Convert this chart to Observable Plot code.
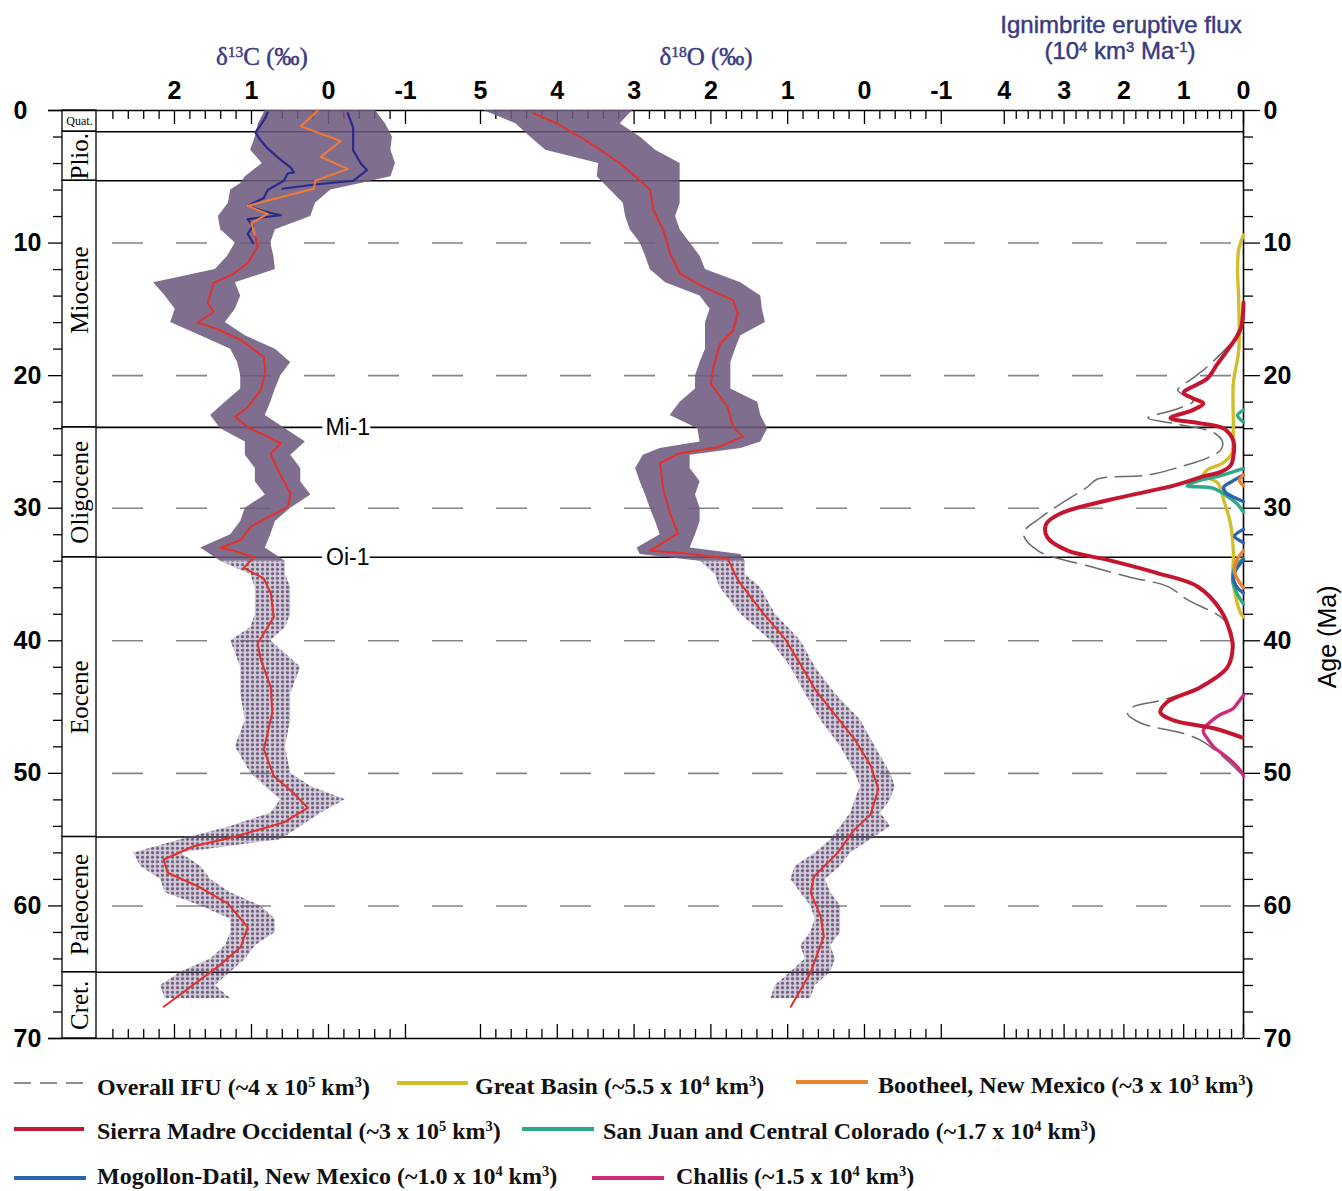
<!DOCTYPE html>
<html>
<head>
<meta charset="utf-8">
<script src="https://cdn.jsdelivr.net/npm/d3@7"></script>
<script src="https://cdn.jsdelivr.net/npm/@observablehq/plot@0.6"></script>
<style>
html,body{margin:0;padding:0;background:#fff;}
#wrap{position:relative;width:1342px;height:1191px;overflow:hidden;background:#fff;}
.ttl{position:absolute;color:#3b3a80;white-space:nowrap;transform:translateX(-50%);line-height:1;-webkit-text-stroke:0.45px #3b3a80;}
.serif{font-family:"Liberation Serif","Times New Roman",serif;}
.sans{font-family:"Liberation Sans",Arial,sans-serif;}
.ttl sup{font-size:0.62em;vertical-align:0.5em;line-height:0;}
.leg{position:absolute;font-family:"Liberation Serif","Times New Roman",serif;font-weight:bold;font-size:24px;white-space:nowrap;color:#111;line-height:1;}
.leg sup{font-size:0.6em;vertical-align:0.55em;line-height:0;}
.sw{position:absolute;overflow:visible;}
</style>
</head>
<body>
<div id="wrap"></div>
<script>
// ---------------- DATA ----------------
const epochs = [
  {name: "Quat.", start: 0, end: 1.6},
  {name: "Plio.", start: 1.6, end: 5.3},
  {name: "Miocene", start: 5.3, end: 23.9},
  {name: "Oligocene", start: 23.9, end: 33.7},
  {name: "Eocene", start: 33.7, end: 54.8},
  {name: "Paleocene", start: 54.8, end: 65},
  {name: "Cret.", start: 65, end: 70}
];
const boundaries = [1.6, 5.3, 23.9, 33.7, 54.8, 65];
const dashedAges = [10, 20, 30, 40, 50, 60];
const events = [{label: "Mi-1", age: 23.9}, {label: "Oi-1", age: 33.7}];
const ageMajor = [0, 10, 20, 30, 40, 50, 60, 70];
const ageMinor = [2, 4, 6, 8, 12, 14, 16, 18, 22, 24, 26, 28, 32, 34, 36, 38, 42, 44, 46, 48, 52, 54, 56, 58, 62, 64, 66, 68];

const c13TickLabels = [2, 1, 0, -1];
const o18TickLabels = [5, 4, 3, 2, 1, 0, -1];
const fluxTickLabels = [4, 3, 2, 1, 0];

// δ13C data cloud envelope [age, left value, right value] (‰)
const c13CloudDense = [
  [0,0.82,-0.61],[1,0.91,-0.74],[2,0.95,-0.83],[3,1.01,-0.81],[4,0.86,-0.87],[5,1.08,-0.81],[5.5,1.14,-0.42],
  [6,1.27,-0.03],[7,1.30,0.17],[8,1.43,0.23],[9,1.40,0.69],[10,1.21,0.75],[11,1.31,0.71],[12,1.47,0.69],
  [13,2.27,1.21],[14,2.12,1.14],[15,1.99,1.21],[16,2.05,1.34],[17,1.66,1.08],[18,1.27,0.69],[19,1.18,0.49],
  [20,1.14,0.62],[21,1.14,0.69],[22,1.34,0.75],[23,1.53,0.82],[24,1.40,0.56],[25,1.08,0.30],[26,1.08,0.49],
  [27,0.95,0.36],[28,0.95,0.36],[29,0.82,0.23],[30,1.08,0.49],[31,1.14,0.69],[32,1.27,0.75],[33,1.66,0.82],
  [34,1.40,0.56]
];
const c13CloudSparse = [
  [34,1.40,0.56],[35,1.01,0.56],[36,0.95,0.49],[38,0.95,0.49],[39,1.01,0.56],[40,1.27,0.75],[42,1.14,0.36],
  [44,1.14,0.49],[46,1.08,0.49],[48,1.21,0.56],[50,1.01,0.49],[51,0.82,0.23],[52,0.62,-0.22],[53,0.75,0.10],
  [54,1.27,0.36],[55,1.92,0.62],[56,2.53,1.92],[57,2.44,1.66],[58,2.18,1.53],[59,2.12,1.27],[60,1.66,0.88],
  [61,1.27,0.69],[62,1.27,0.69],[63,1.34,0.95],[64,1.53,1.08],[65,1.92,1.27],[66,2.18,1.47],[67,2.12,1.27]
];
// δ13C smoothed curves [age, value]
const c13Red = [
  [9.5,0.95],[10.3,0.92],[11.5,1.05],[12.3,1.23],[13.0,1.49],[14.5,1.57],[15.2,1.49],[16.0,1.70],[16.5,1.44],
  [17.3,1.14],[18.6,0.84],[19.8,0.82],[21.1,0.88],[22.4,1.05],[23.1,1.21],[23.9,1.05],[24.6,0.79],[25.1,0.62],
  [25.9,0.75],[27.1,0.66],[28.9,0.49],[29.9,0.53],[30.7,0.79],[31.4,1.01],[32.4,1.14],[33.0,1.40],[33.2,1.23],
  [33.7,0.97],[34.5,1.10],[35.3,0.84],[36.4,0.75],[38.2,0.71],[40.2,0.92],[41.4,0.88],[43.5,0.75],[45.4,0.73],
  [48.2,0.84],[50.2,0.71],[51.5,0.45],[52.6,0.27],[53.7,0.58],[54.8,1.23],[55.5,1.75],[56.5,2.14],[57.5,2.09],
  [58.5,1.70],[59.8,1.31],[61.6,1.05],[63.1,1.14],[64.6,1.44],[66.1,1.79],[67.6,2.14]
];
const c13Orange = [
  [0,0.14],[1.2,0.36],[2.3,-0.16],[3.5,0.1],[4.4,-0.25],[5.3,0.17],[5.9,0.19],[6.5,0.6],[7.2,1.05],
  [7.8,0.79],[8.5,1.0],[9.5,0.95]
];
const c13NavyLeft = [
  [0.15,0.79],[0.75,0.84],[1.66,0.95],[2.26,0.88],[2.86,0.79],[3.54,0.66],[4.3,0.49],[4.67,0.45],[4.75,0.53],
  [5.3,0.58],[6.0,0.79],[6.6,0.84],[7.2,1.05],[7.6,0.84],[7.9,0.62],[8.2,1.05],[8.7,0.98],[9.3,1.05],[10,0.98]
];
const c13NavyRight = [
  [0.2,-0.25],[1.3,-0.32],[3.0,-0.32],[4.0,-0.42],[4.5,-0.5],[5.3,-0.32],[5.6,0.2],[5.9,0.6]
];

// δ18O data cloud envelope and smoothed curve
const o18CloudDense = [
  [0,4.96,3.02],[1,4.54,3.18],[2,4.35,2.92],[3,4.15,2.72],[4,3.46,2.40],[5,3.48,2.40],[6,3.31,2.40],[7,3.14,2.40],
  [8,3.11,2.46],[9,3.05,2.40],[10,2.92,2.27],[11,2.85,2.14],[12,2.79,2.07],[13,2.59,1.61],[14,2.14,1.35],
  [15,2.01,1.33],[16,2.07,1.29],[17,2.07,1.61],[18,2.07,1.68],[19,2.14,1.74],[20,2.20,1.74],[21,2.20,1.74],
  [22,2.40,1.39],[23,2.53,1.35],[24,2.17,1.26],[25,2.14,1.35],[25.5,2.66,1.61],[26,2.88,2.27],[27,2.98,2.27],
  [28,2.92,2.14],[29,2.85,2.20],[30,2.79,2.14],[31,2.72,2.14],[32,2.66,2.20],[33,2.96,2.27],[33.5,2.92,1.61],
  [34,2.14,1.55]
];
const o18CloudSparse = [
  [34,2.14,1.55],[35,1.94,1.55],[36,1.88,1.35],[38,1.61,1.16],[40,1.22,0.83],[42,0.96,0.64],[44,0.77,0.38],
  [46,0.57,0.05],[48,0.31,-0.14],[50,0.12,-0.34],[51,0.05,-0.40],[52,0.12,-0.34],[53,0.18,-0.21],[54,0.31,-0.34],
  [55,0.44,-0.08],[56,0.64,0.18],[57,0.90,0.31],[58,0.96,0.51],[59,0.83,0.44],[60,0.70,0.31],[61,0.64,0.31],
  [62,0.70,0.31],[63,0.83,0.44],[64,0.77,0.38],[65,0.96,0.44],[66,1.16,0.64],[67,1.22,0.70]
];
const o18Red = [
  [0.2,4.31],[1.0,4.0],[2.0,3.70],[2.8,3.48],[4.0,3.18],[5.3,2.92],[6.0,2.79],[7.5,2.75],[9.0,2.62],[10.8,2.53],
  [12.3,2.40],[13.3,2.10],[14.3,1.71],[15.3,1.65],[16.6,1.71],[17.6,1.88],[19.4,1.97],[20.6,2.0],[22.4,1.78],
  [23.9,1.71],[24.6,1.58],[25.4,1.91],[25.9,2.43],[26.6,2.66],[28.6,2.62],[30.4,2.53],[31.9,2.43],[32.6,2.62],
  [33.2,2.79],[33.4,2.35],[33.8,1.78],[35.4,1.65],[37.7,1.35],[39.9,1.03],[41.8,0.83],[43.7,0.64],[45.6,0.38],
  [47.5,0.12],[49.4,-0.08],[51.2,-0.18],[53.1,-0.08],[54.3,0.14],[56.0,0.35],[57.8,0.66],[59.0,0.70],[60.8,0.57],
  [62.3,0.53],[65.0,0.70],[67.6,0.96]
];

// Ignimbrite eruptive flux (10^4 km^3/Ma) [age, flux]; separate pulses per region
const fluxOverall = [
  [15,0.02],[17,0.12],[18,0.3],[19.5,0.65],[20.2,0.85],[21.1,1.1],[21.9,0.84],[22.5,1.1],[23.2,1.6],[23.6,1.17],
  [24.3,0.5],[25.0,0.35],[25.6,0.38],[26.2,0.6],[26.8,1.0],[27.5,1.6],[27.8,2.44],[28.4,2.61],[29.5,3.0],
  [30.7,3.39],[31.9,3.68],[33.2,3.44],[34.4,2.56],[35.2,1.9],[35.9,1.27],[36.9,0.94],[38.4,0.33],[39.9,0.17],
  [42,0.27],[43.5,0.72],[44.5,1.39],[45.0,1.85],[45.5,1.94],[46.2,1.72],[47.0,1.0],[47.5,0.72],[48.8,0.33],[50,0.05]
];
const fluxSMO = [
  [14.5,0],[16.5,0.05],[18.1,0.27],[19.2,0.45],[20.2,0.6],[21.3,1.0],[21.7,0.85],[22.1,0.67],[22.6,0.85],[23.2,1.22],
  [23.6,0.72],[24.0,0.33],[24.9,0.17],[26.1,0.17],[26.8,0.22],[27.3,0.4],[27.6,0.67],[28.3,1.17],[29.4,2.27],
  [30.4,3.06],[31.2,3.3],[32.2,3.28],[33.2,2.94],[33.9,2.27],[34.9,1.44],[35.9,0.77],[37.7,0.38],[39.4,0.22],
  [40.5,0.18],[42.0,0.27],[43.5,0.72],[44.6,1.27],[45.4,1.39],[46.0,1.17],[46.6,0.5],[47.3,0.02]
];
const fluxGreatBasin = [
  [9.4,0],[10.5,0.08],[12,0.1],[14.3,0.08],[18.1,0.08],[20.6,0.17],[24.3,0.17],[25.9,0.2],[26.6,0.35],[27.1,0.6],
  [27.5,0.67],[28.1,0.43],[29.4,0.33],[31.1,0.22],[33.2,0.17],[35.7,0.17],[37.9,0.05],[38.2,0]
];
const fluxSanJuan = [
  [[22.6,0],[23.0,0.1],[23.5,0]],
  [[27.0,0],[27.3,0.2],[27.6,0.43],[28.0,0.8],[28.3,0.94],[28.5,0.5],[29.1,0.27],[29.7,0.1],[30.3,0]],
  [[33.8,0],[34.5,0.15],[35.5,0.18],[36.5,0.1],[37.2,0]]
];
const fluxMogollon = [
  [[27.5,0],[28.0,0.2],[28.4,0.33],[28.8,0.3],[29.2,0.15],[29.5,0]],
  [[31.6,0],[32.1,0.15],[32.6,0]],
  [[33.9,0],[34.6,0.12],[35.2,0.17],[35.9,0.12],[36.4,0]]
];
const fluxBootheel = [
  [[27.5,0],[27.9,0.07],[28.3,0]],
  [[33.2,0],[34.0,0.12],[34.8,0.15],[35.5,0.08],[36,0]]
];
const fluxChallis = [
  [44.1,0],[44.7,0.1],[45.1,0.17],[45.6,0.4],[46.1,0.55],[46.6,0.66],[46.9,0.67],[47.4,0.6],[48.0,0.5],[48.6,0.33],
  [49.2,0.17],[49.8,0.05],[50.2,0]
];

const seriesNames = [
  "Overall IFU (~4 x 10^5 km^3)",
  "Great Basin (~5.5 x 10^4 km^3)",
  "Bootheel, New Mexico (~3 x 10^3 km^3)",
  "Sierra Madre Occidental (~3 x 10^5 km^3)",
  "San Juan and Central Colorado (~1.7 x 10^4 km^3)",
  "Mogollon-Datil, New Mexico (~1.0 x 10^4 km^3)",
  "Challis (~1.5 x 10^4 km^3)"
];

// ---------------- STYLE ----------------
const C = {
  cloud: "#6e5a80", red: "#e3302b", navy: "#2b2a8c", orange: "#f27b35",
  overall: "#6a6a6a", gb: "#d2be2c", boot: "#ea8430", smo: "#c4162f", sj: "#2aaa86", mog: "#2c63ae", challis: "#d02a7a"
};
const seriesStyles = [
  {color: C.overall, dash: "17,9", width: 1.6},
  {color: C.gb, width: 4},
  {color: C.boot, width: 4},
  {color: C.smo, width: 4},
  {color: C.sj, width: 4},
  {color: C.mog, width: 4},
  {color: C.challis, width: 4}
];
const legendLayout = [
  {x: 14, len: 74, y: 1083, tx: 97, ty: 1075},
  {x: 397, len: 71, y: 1083, tx: 475, ty: 1074},
  {x: 796, len: 72, y: 1082, tx: 878, ty: 1073},
  {x: 14, len: 70, y: 1129, tx: 97, ty: 1119},
  {x: 522, len: 72, y: 1129, tx: 603, ty: 1119},
  {x: 14, len: 72, y: 1178, tx: 97, ty: 1164},
  {x: 592, len: 72, y: 1178, tx: 676, ty: 1164}
];

// ---------------- BUILD ----------------
const W = 1342, H = 1060;
const YS = {domain: [0, 70], range: [110, 1038]};
const svgStyle = "position:absolute;left:0;top:0;background:transparent;overflow:visible;font-family:'Liberation Sans',Arial,sans-serif;";
const serif = "Liberation Serif, Times New Roman, serif";
const wrap = document.getElementById("wrap");

function layer(ml, mr, xopt, marks) {
  const svg = Plot.plot({
    width: W, height: H, marginLeft: ml, marginRight: mr, marginTop: 110, marginBottom: 22,
    x: {...xopt, axis: null}, y: {...YS, axis: null, label: null}, style: svgStyle, marks
  });
  wrap.appendChild(svg);
  return svg;
}
function stepTicks(lo, hi) { // 0.2 spaced tick positions
  const out = [];
  for (let i = Math.round(lo * 5); i <= Math.round(hi * 5); i++) out.push(i / 5);
  return out;
}
function frameTicks(lo, hi) {
  const all = stepTicks(lo, hi);
  const major = all.filter(d => Math.abs(d - Math.round(d)) < 1e-9);
  const minor = all.filter(d => Math.abs(d - Math.round(d)) >= 1e-9);
  const st = {stroke: "#000", strokeWidth: 1.3};
  return [
    Plot.ruleX(minor, {x: d => d, y1: 0, y2: 0, insetBottom: -9, ...st}),
    Plot.ruleX(major, {x: d => d, y1: 0, y2: 0, insetBottom: -14, ...st}),
    Plot.ruleX(minor, {x: d => d, y1: 70, y2: 70, insetTop: -9, ...st}),
    Plot.ruleX(major, {x: d => d, y1: 70, y2: 70, insetTop: -14, ...st})
  ];
}
function topLabels(vals) {
  return Plot.text(vals, {x: d => d, text: d => (d < 0 ? "-" + Math.abs(d) : String(d)), frameAnchor: "top",
    dy: -20, fontSize: 25, fontWeight: "bold", fill: "#000", lineAnchor: "middle"});
}
// speckle pattern for sparsely sampled parts of the isotope clouds
function addPattern(svg, id) {
  const defs = d3.select(svg).insert("defs", ":first-child");
  const p = defs.append("pattern").attr("id", id).attr("width", 5).attr("height", 4.5).attr("patternUnits", "userSpaceOnUse");
  p.append("rect").attr("width", 5).attr("height", 4.5).attr("fill", C.cloud).attr("fill-opacity", 0.32);
  p.append("circle").attr("cx", 2.5).attr("cy", 2.2).attr("r", 1.6).attr("fill", C.cloud).attr("fill-opacity", 1);
}

// dashed grid
layer(112, 99, {domain: [0, 1]}, [
  Plot.ruleY(dashedAges, {stroke: "#858585", strokeWidth: 1.6, strokeDasharray: "31,33"})
]);
// epoch boundary lines
layer(96, 99, {domain: [0, 1]}, [
  Plot.ruleY(boundaries, {stroke: "#000", strokeWidth: 1.6})
]);
// top and bottom frame lines
layer(48, 99, {domain: [0, 1]}, [
  Plot.ruleY([0, 70], {stroke: "#000", strokeWidth: 1.6})
]);
// epoch column + left age axis
const epochText = {text: "name", rotate: -90, fontSize: 25, fontFamily: serif, frameAnchor: "middle", fill: "#000"};
layer(62, W - 96, {domain: [0, 1]}, [
  Plot.rect(epochs, {y1: "start", y2: "end", stroke: "#000", strokeWidth: 1.3, fill: "none"}),
  Plot.text(epochs.filter(d => !["Quat.", "Miocene"].includes(d.name)), {y: d => (d.start + d.end) / 2, ...epochText}),
  Plot.text(epochs.filter(d => d.name === "Miocene"), {y: d => (d.start + d.end) / 2, dy: -14, ...epochText}),
  Plot.text(epochs.filter(d => d.name === "Quat."), {y: d => (d.start + d.end) / 2, text: "name",
    fontSize: 12, fontFamily: serif, frameAnchor: "middle", fill: "#000"}),
  Plot.axisY(ageMinor, {anchor: "left", tickSize: 9, tickFormat: () => "", strokeWidth: 1.3, label: null}),
  Plot.axisY(ageMajor, {anchor: "left", tickSize: 14, tickFormat: () => "", strokeWidth: 1.3, label: null}),
  Plot.text(ageMajor, {y: d => d, text: d => String(d), frameAnchor: "left", dx: -49, textAnchor: "start",
    fontSize: 25, fontWeight: "bold", fill: "#000"})
]);

// δ13C panel
const s13 = layer(97, W - 443.5, {domain: [3, -1.5]}, [
  ...frameTicks(-1, 2.8),
  topLabels(c13TickLabels),
  Plot.areaX(c13CloudDense, {y: d => d[0], x1: d => d[1], x2: d => d[2], fill: C.cloud, fillOpacity: 0.88}),
  Plot.areaX(c13CloudSparse, {y: d => d[0], x1: d => d[1], x2: d => d[2], fill: "url(#speckle)"}),
  Plot.line(c13NavyLeft, {x: d => d[1], y: d => d[0], stroke: C.navy, strokeWidth: 2.2}),
  Plot.line(c13NavyRight, {x: d => d[1], y: d => d[0], stroke: C.navy, strokeWidth: 2.2}),
  Plot.line(c13Orange, {x: d => d[1], y: d => d[0], stroke: C.orange, strokeWidth: 2}),
  Plot.line(c13Red, {x: d => d[1], y: d => d[0], stroke: C.red, strokeWidth: 2}),
  Plot.text(events, {x: -0.25, y: "age", text: "label", fontSize: 23, fill: "#000", stroke: "#fff", strokeWidth: 10, paintOrder: "stroke"})
]);
addPattern(s13, "speckle");

// δ18O panel
layer(443.5, W - 971.5, {domain: [5.475, -1.4]}, [
  ...frameTicks(-1, 5),
  topLabels(o18TickLabels),
  Plot.areaX(o18CloudDense, {y: d => d[0], x1: d => d[1], x2: d => d[2], fill: C.cloud, fillOpacity: 0.88}),
  Plot.areaX(o18CloudSparse, {y: d => d[0], x1: d => d[1], x2: d => d[2], fill: "url(#speckle)"}),
  Plot.line(o18Red, {x: d => d[1], y: d => d[0], stroke: C.red, strokeWidth: 2})
]);

// Ignimbrite flux panel
const pulses = (arr, s) => arr.flatMap((p, k) => p.map(d => ({age: d[0], f: d[1], k, s})));
const fx = {x: "f", y: "age", z: "k", curve: "catmull-rom"};
layer(971.5, 99, {domain: [4.54, 0]}, [
  ...frameTicks(0, 4),
  topLabels(fluxTickLabels),
  Plot.ruleX([0], {stroke: "#000", strokeWidth: 1.6}),
  Plot.axisY(ageMinor, {anchor: "right", tickSize: 9, tickFormat: () => "", strokeWidth: 1.3, label: null}),
  Plot.axisY(ageMajor, {anchor: "right", tickSize: 16, tickPadding: 4, fontSize: 25, fontWeight: "bold", strokeWidth: 1.3, label: null, fill: "#000"}),
  Plot.text(["Age (Ma)"], {frameAnchor: "right", dx: 84, dy: 11, rotate: -90, fontSize: 25, fill: "#000"}),
  Plot.line(pulses([fluxOverall], 0), {...fx, stroke: C.overall, strokeWidth: 1.5, strokeDasharray: "26,9"}),
  Plot.line(pulses([fluxGreatBasin], 1), {...fx, stroke: C.gb, strokeWidth: 3.4}),
  Plot.line(pulses(fluxSanJuan, 4), {...fx, stroke: C.sj, strokeWidth: 3.4}),
  Plot.line(pulses(fluxMogollon, 5), {...fx, stroke: C.mog, strokeWidth: 3.4}),
  Plot.line(pulses(fluxBootheel, 2), {...fx, stroke: C.boot, strokeWidth: 3.4}),
  Plot.line(pulses([fluxChallis], 6), {...fx, stroke: C.challis, strokeWidth: 3.4}),
  Plot.line(pulses([fluxSMO], 3), {...fx, stroke: C.smo, strokeWidth: 4})
]);

// titles
function addDiv(cls, html, left, top, size) {
  const d = document.createElement("div");
  d.className = cls; d.innerHTML = html;
  d.style.left = left + "px"; d.style.top = top + "px"; d.style.fontSize = size + "px";
  wrap.appendChild(d);
}
addDiv("ttl serif", "δ<sup>13</sup>C (‰)", 262, 44, 25);
addDiv("ttl serif", "δ<sup>18</sup>O (‰)", 706, 44, 25);
addDiv("ttl sans", "Ignimbrite eruptive flux", 1121, 13, 24);
addDiv("ttl sans", "(10<sup>4</sup> km<sup>3</sup> Ma<sup>-1</sup>)", 1120, 39, 24);

// legend
const supify = s => s.replace(/\^(-?\d+)/g, "<sup>$1</sup>");
seriesNames.forEach((name, i) => {
  const L = legendLayout[i], S = seriesStyles[i];
  const svg = d3.create("svg").attr("class", "sw").attr("width", L.len).attr("height", 8)
    .style("left", L.x + "px").style("top", (L.y - 4) + "px");
  svg.append("line").attr("x1", 0).attr("x2", L.len).attr("y1", 4).attr("y2", 4)
    .attr("stroke", S.color).attr("stroke-width", S.width).attr("stroke-dasharray", S.dash || null);
  wrap.appendChild(svg.node());
  const t = document.createElement("div");
  t.className = "leg"; t.innerHTML = supify(name);
  t.style.left = L.tx + "px"; t.style.top = L.ty + "px";
  wrap.appendChild(t);
});
</script>
</body>
</html>
